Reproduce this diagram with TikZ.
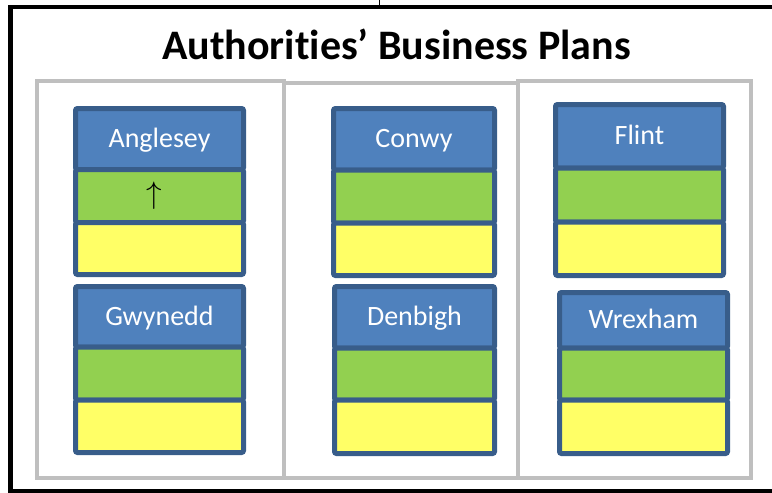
\documentclass[tikz,border=0pt]{standalone}
\usepackage{fontspec}
\setmainfont{Carlito}[RawFeature=-liga]
\usepackage{tikz}
\usetikzlibrary{positioning}
\definecolor{hdrblue}{HTML}{4F81BD}
\definecolor{edgeblue}{HTML}{385D8A}
\definecolor{leafgreen}{HTML}{92D050}
\definecolor{paleyellow}{HTML}{FFFF66}
\definecolor{panelgray}{HTML}{BFBFBF}

\begin{document}
\begin{tikzpicture}[
  x=1pt, y=-1pt,
  outerbox/.style={draw=black, line width=4.5pt, anchor=north west,
                   inner sep=0pt, outer sep=0pt},
  panel/.style={draw=panelgray, line width=4pt, anchor=north west,
                inner sep=0pt, outer sep=0pt},
  title/.style={font=\bfseries\fontsize{42}{50}\selectfont, text=black},
  head/.style={draw=edgeblue, fill=hdrblue, line width=5pt, rounded corners=2pt,
               outer sep=0pt, anchor=north west, text=white,
               font=\fontsize{28}{34}\selectfont, text height=17pt, text depth=0pt},
  midband/.style={draw=edgeblue, fill=leafgreen, line width=5pt,
                  rounded corners=2pt, outer sep=0pt},
  lowband/.style={draw=edgeblue, fill=paleyellow, line width=5pt,
                  rounded corners=2pt, outer sep=0pt},
]
  \useasboundingbox (0,0) rectangle (772,493);

  % Outer frame and the feed line above it
  \node[outerbox, minimum width=765.5pt, minimum height=484pt] (frame) at (10.5,7) {};
  \coordinate (feed) at (379,0);
  \draw[line width=1pt] (feed) -- (feed |- frame.north);

  \node[title, anchor=base] (heading) at (396.5,59) {Authorities’ Business Plans};

  % Grey panels
  \node[panel, minimum width=246.5pt, minimum height=397.5pt] (westpanel) at (37,80.5) {};
  \node[panel, minimum width=234pt, minimum height=395.5pt] (midpanel) at (283.5,82.5) {};
  \node[panel, minimum width=233.5pt, minimum height=397.5pt] (eastpanel) at (517.5,80.5) {};

  % West column
  \node[head, minimum width=168pt, minimum height=61pt] (anglesey) at (75.5,108.5) {Anglesey};
  \node[midband, minimum width=168pt, minimum height=53pt, below=0pt of anglesey]
    (angmid) {\hspace*{-10pt}\scalebox{3.1}{$\uparrow$}};
  \node[lowband, minimum width=168pt, minimum height=52pt, below=0pt of angmid] (anglow) {};

  \node[head, minimum width=168pt, minimum height=60.5pt] (gwynedd) at (75.5,286.5) {Gwynedd};
  \node[midband, minimum width=168pt, minimum height=53pt, below=0pt of gwynedd] (gwymid) {};
  \node[lowband, minimum width=168pt, minimum height=52.5pt, below=0pt of gwymid] (gwylow) {};

  % Middle column
  \node[head, minimum width=161pt, minimum height=61.5pt] (conwy) at (333.5,108.5) {Conwy};
  \node[midband, minimum width=161pt, minimum height=53pt, below=0pt of conwy] (conmid) {};
  \node[lowband, minimum width=161pt, minimum height=52.5pt, below=0pt of conmid] (conlow) {};

  \node[head, minimum width=160pt, minimum height=61.5pt] (denbigh) at (334.5,286.5) {Denbigh};
  \node[midband, minimum width=160pt, minimum height=52pt, below=0pt of denbigh] (denmid) {};
  \node[lowband, minimum width=160pt, minimum height=53.5pt, below=0pt of denmid] (denlow) {};

  % East column
  \node[head, minimum width=168pt, minimum height=63.5pt] (flint) at (555.5,104.5) {Flint};
  \node[midband, minimum width=168pt, minimum height=54pt, below=0pt of flint] (flimid) {};
  \node[lowband, minimum width=168pt, minimum height=53.5pt, below=0pt of flimid] (flilow) {};

  \node[head, minimum width=168pt, minimum height=55.5pt] (wrexham) at (559.5,292.5) {Wrexham};
  \node[midband, minimum width=168pt, minimum height=52pt, below=0pt of wrexham] (wremid) {};
  \node[lowband, minimum width=168pt, minimum height=53.5pt, below=0pt of wremid] (wrelow) {};
\end{tikzpicture}
\end{document}
